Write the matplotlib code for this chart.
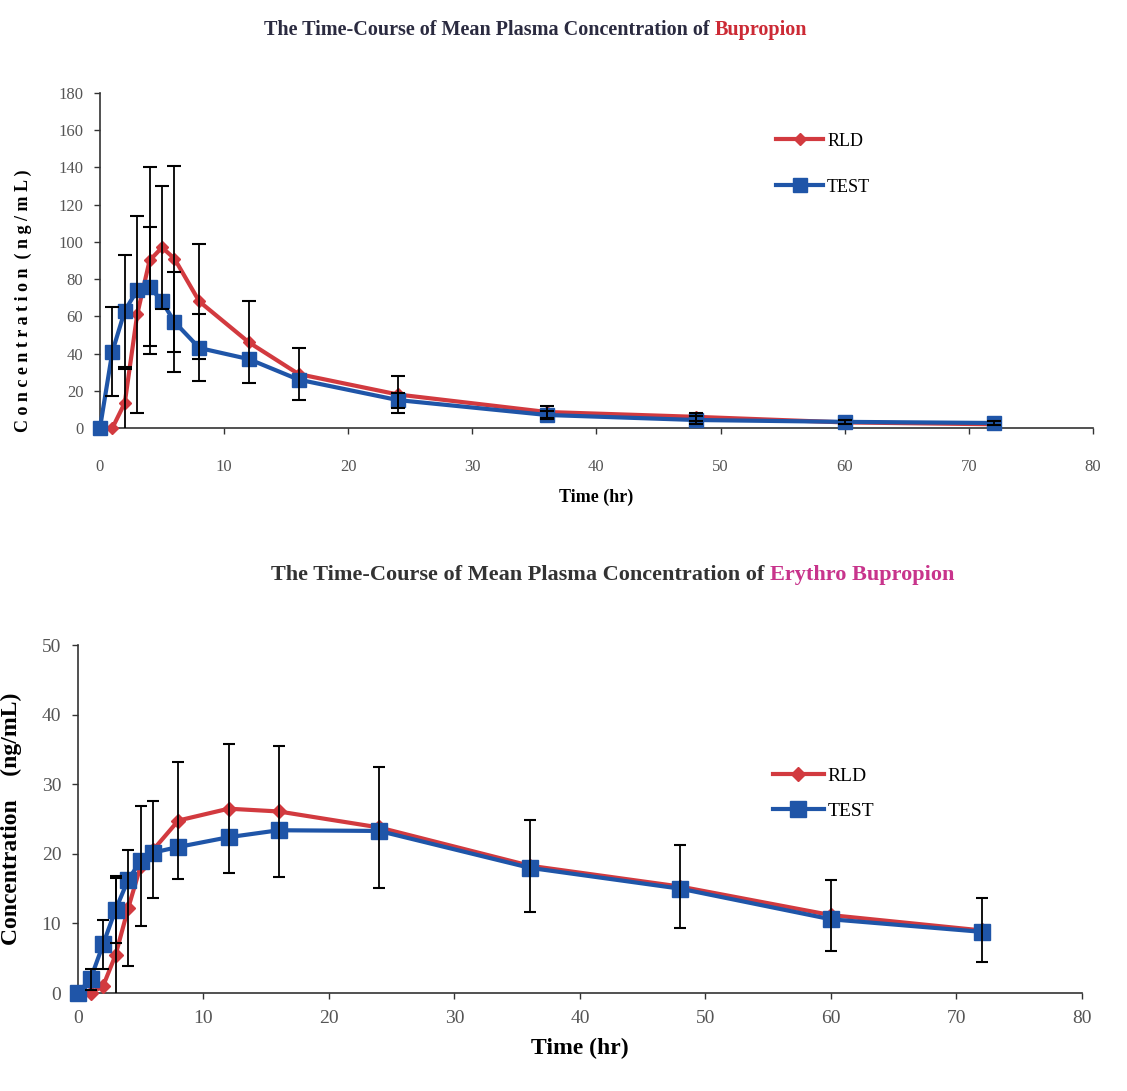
"""
bupropion ve erythro bupropion ortalama plazma konsantrasyonu - zaman grafigi
RLD ve TEST karsilastirmasi, hata cubuklari ile
"""

import matplotlib.pyplot as plt
import numpy as np

# zaman noktalari (saat)
time_hr = [0, 1, 2, 3, 4, 5, 6, 8, 12, 16, 24, 36, 48, 60, 72]

# bupropion (ng/mL)
bup_rld = [0, 0, 13.5, 61, 90, 97, 91, 68, 46, 29, 18, 8.6, 6, 3, 2]
bup_test = [0, 41, 63, 74, 76, 68, 57, 43, 37, 26, 15, 7, 4.3, 3.3, 2.7]
bup_rld_err = [0, 0, 18, 53, 50, 33, 50, 31, 22, 14, 10, 3, 2, 0, 0]
bup_test_err = [0, 24, 30, 0, 32, 0, 27, 18, 0, 0, 4, 2, 2, 1, 1]

# erythro bupropion (ng/mL)
ery_rld = [0, 0, 1, 5.5, 12.2, 18.3, 20.6, 24.8, 26.5, 26.1, 23.8, 18.3, 15.3, 11.2, 9]
ery_test = [0, 2, 7, 12, 16.3, 19, 20.2, 21, 22.4, 23.4, 23.3, 18, 15, 10.6, 8.8]
ery_rld_err = [0, 0, 0, 11, 8.3, 8.6, 7, 8.4, 9.3, 9.4, 8.7, 6.6, 6, 5.1, 4.6]
ery_test_err = [0, 1.5, 3.5, 4.8, 0, 0, 0, 0, 0, 0, 0, 0, 0, 0, 0]

RED = "#d23a3f"
BLUE = "#1f55a8"
FONT = "Liberation Serif"
TICK_COLOR = "#555555"

fig = plt.figure(figsize=(11.27, 10.91), dpi=100)


def hata_cubugu(ax, x, y, err, cap):
    # sadece sifir olmayan hatalari ciz
    idx = [i for i, e in enumerate(err) if e > 0]
    ax.errorbar([x[i] for i in idx], [y[i] for i in idx], yerr=[err[i] for i in idx],
                fmt="none", ecolor="black", elinewidth=1.3, capsize=cap, capthick=1.5,
                zorder=4)


def eksen_ayarla(ax, ymax, ystep, fs):
    ax.set_xlim(0, 80)
    ax.set_ylim(0, ymax)
    ax.set_xticks(np.arange(0, 81, 10))
    ax.set_yticks(np.arange(0, ymax + 1, ystep))
    ax.spines["top"].set_visible(False)
    ax.spines["right"].set_visible(False)
    for s in ("left", "bottom"):
        ax.spines[s].set_color("#333333")
        ax.spines[s].set_linewidth(1.2)
    ax.tick_params(direction="out", length=4, width=1, colors="#333333", pad=8)
    for lab in ax.get_xticklabels() + ax.get_yticklabels():
        lab.set_fontfamily(FONT)
        lab.set_fontsize(fs)
        lab.set_color(TICK_COLOR)


# ust grafik: bupropion
ax1 = fig.add_axes([0.0887, 0.6077, 0.881, 0.3071])
ax1.plot(time_hr, bup_rld, color=RED, lw=3, marker="D", ms=6, label="RLD", zorder=3, clip_on=False)
ax1.plot(time_hr, bup_test, color=BLUE, lw=3, marker="s", ms=10, label="TEST", zorder=3, clip_on=False)
hata_cubugu(ax1, time_hr, bup_rld, bup_rld_err, 5)
hata_cubugu(ax1, time_hr, bup_test, bup_test_err, 5)
eksen_ayarla(ax1, 180, 20, 12)
ax1.tick_params(axis="x", pad=18)
ax1.set_xlabel("Time (hr)", fontfamily=FONT, fontweight="bold", fontsize=13, labelpad=10)
ax1.set_ylabel("C o n c e n t r a t i o n  ( n g / m L )", fontfamily=FONT, fontweight="bold",
               fontsize=13)
ax1.yaxis.set_label_coords(-0.068, 0.38)
ax1.legend(loc="upper left", bbox_to_anchor=(0.665, 0.93), frameon=False, handlelength=2.6,
           labelspacing=1.6, prop={"family": FONT, "size": 13}, handletextpad=0.2)

# alt grafik: erythro bupropion
ax2 = fig.add_axes([0.0692, 0.0898, 0.8908, 0.3188])
ax2.plot(time_hr, ery_rld, color=RED, lw=3, marker="D", ms=7, label="RLD", zorder=3, clip_on=False)
ax2.plot(time_hr, ery_test, color=BLUE, lw=3, marker="s", ms=11, label="TEST", zorder=3, clip_on=False)
hata_cubugu(ax2, time_hr, ery_rld, ery_rld_err, 4)
hata_cubugu(ax2, time_hr, ery_test, ery_test_err, 4)
eksen_ayarla(ax2, 50, 10, 14)
ax2.set_xlabel("Time (hr)", fontfamily=FONT, fontweight="bold", fontsize=17, labelpad=8)
ax2.set_ylabel("Concentration    (ng/mL)", fontfamily=FONT, fontweight="bold",
               fontsize=17, labelpad=14)
ax2.legend(loc="upper left", bbox_to_anchor=(0.675, 0.7), frameon=False, handlelength=2.6,
           labelspacing=0.9, prop={"family": FONT, "size": 14}, handletextpad=0.2)

# basliklar (iki renkli)
fig.text(0.634, 1 - 30 / 1091, "The Time-Course of Mean Plasma Concentration of ", ha="right",
         va="center", fontfamily=FONT, fontweight="bold", fontsize=14.5, color="#2b2b40")
fig.text(0.634, 1 - 30 / 1091, "Bupropion", ha="left", va="center", fontfamily=FONT,
         fontweight="bold", fontsize=14.5, color="#cc2a35")
fig.text(0.683, 1 - 575 / 1091, "The Time-Course of Mean Plasma Concentration of ", ha="right",
         va="center", fontfamily=FONT, fontweight="bold", fontsize=16, color="#333333")
fig.text(0.683, 1 - 575 / 1091, "Erythro Bupropion", ha="left", va="center", fontfamily=FONT,
         fontweight="bold", fontsize=16, color="#c8348c")

fig.savefig("out.png", dpi=100)
